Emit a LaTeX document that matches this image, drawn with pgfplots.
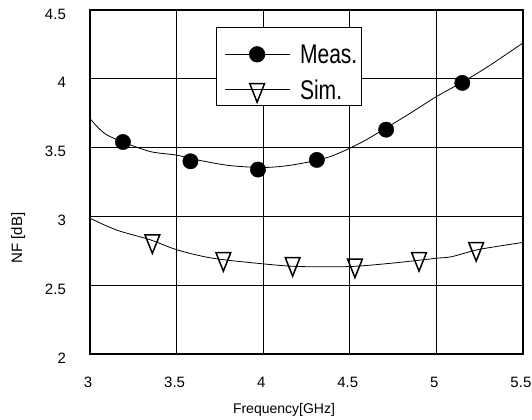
\documentclass[border=0pt]{standalone}
\usepackage{pgfplots}
\pgfplotsset{compat=1.18}
\usepackage{fontspec}
\setmainfont{Liberation Sans}

\newcommand{\legtext}[1]{\scalebox{0.78}[1]{#1}}

\begin{document}
\begin{tikzpicture}
\begin{axis}[
    scale only axis,
    width=433pt, height=344pt,
    xmin=3, xmax=5.5,
    ymin=2, ymax=4.5,
    xtick={3,3.5,4,4.5,5,5.5},
    ytick={2,2.5,3,3.5,4,4.5},
    major tick length=0pt,
    grid=major,
    major grid style={black, line width=1.1pt},
    axis line style={black, line width=1.4pt},
    clip=false,
    /pgf/number format/assume math mode=true,
    ticklabel style={font=\fontsize{15}{17}\selectfont},
    xticklabel style={anchor=north, inner sep=0pt, yshift=-23pt, xshift=-2pt},
    yticklabel style={anchor=east, inner sep=0pt, xshift=-24pt, yshift=-4pt},
    xlabel={Frequency[GHz]},
    ylabel={NF [dB]},
    xlabel style={font=\fontsize{14}{16}\selectfont, at={(axis description cs:0.448,-0.163)}, anchor=center},
    ylabel style={font=\fontsize{15}{17}\selectfont, at={(axis description cs:-0.166,0.337)}, anchor=center},
    legend style={
        at={(axis description cs:0.292,0.951)}, anchor=north west,
        draw=black, line width=1pt, fill=white,
        font=\fontsize{27}{30}\selectfont,
        inner xsep=3pt, inner ysep=2pt, row sep=10.5pt,
        nodes={inner sep=1pt, text depth=3.5pt},
        cells={anchor=base west},
        /tikz/column 1/.style={column sep=9pt},
    },
]

% bounding box of the whole figure
\path (rel axis cs:-0.208,1.029) rectangle (rel axis cs:1.021,-0.192);

% measured: fitted curve and points
\addplot[black, line width=0.8pt, smooth,
    legend image code/.code={\path (-4.3pt,9.5pt);
        \draw[black, line width=0.8pt, mark=*, mark size=7.7pt, mark repeat=2, mark phase=2]
        plot coordinates {(0pt,9.5pt) (32.5pt,9.5pt) (65pt,9.5pt)};}]
coordinates {
(3.0,3.71)(3.05,3.64)(3.1,3.59)(3.2,3.535)(3.35,3.47)(3.5,3.445)(3.6,3.415)
(3.8,3.37)(4.0,3.355)(4.15,3.37)(4.3,3.405)(4.4,3.44)(4.5,3.495)(4.6,3.56)
(4.7,3.635)(4.85,3.75)(5.0,3.87)(5.15,3.975)(5.3,4.09)(5.5,4.26)
};
\addlegendentry{\rule{0pt}{33.5pt}\legtext{Meas.}}
\addplot[forget plot, only marks, mark=*, mark size=7.7pt, black]
coordinates {
(3.19,3.54)(3.58,3.40)(3.97,3.34)(4.31,3.41)(4.71,3.63)(5.15,3.97)
};

% simulated: curve and points
\addplot[black, line width=0.8pt, smooth,
    legend image code/.code={\path (-4.3pt,9.5pt);
        \draw[black, line width=0.8pt, mark=triangle, mark size=8.5pt,
        mark options={rotate=180, yscale=1.45, line width=1.5pt, fill=white},
        mark repeat=2, mark phase=2]
        plot coordinates {(0pt,9.5pt) (32.5pt,9.5pt) (65pt,9.5pt)};}]
coordinates {
(3.0,2.986)(3.154,2.90)(3.346,2.83)(3.504,2.756)(3.71,2.695)(4.02,2.652)
(4.21,2.635)(4.5,2.635)(4.747,2.66)(5.0,2.695)(5.09,2.707)(5.25,2.76)(5.5,2.81)
};
\addlegendentry{\legtext{Sim.}}
\addplot[forget plot, only marks, black, mark=triangle, mark size=8.5pt,
    mark options={rotate=180, yscale=1.45, line width=1.5pt, fill=none}]
coordinates {
(3.36,2.82)(3.77,2.691)(4.17,2.655)(4.53,2.644)(4.90,2.691)(5.23,2.764)
};

\end{axis}
\end{tikzpicture}
\end{document}
